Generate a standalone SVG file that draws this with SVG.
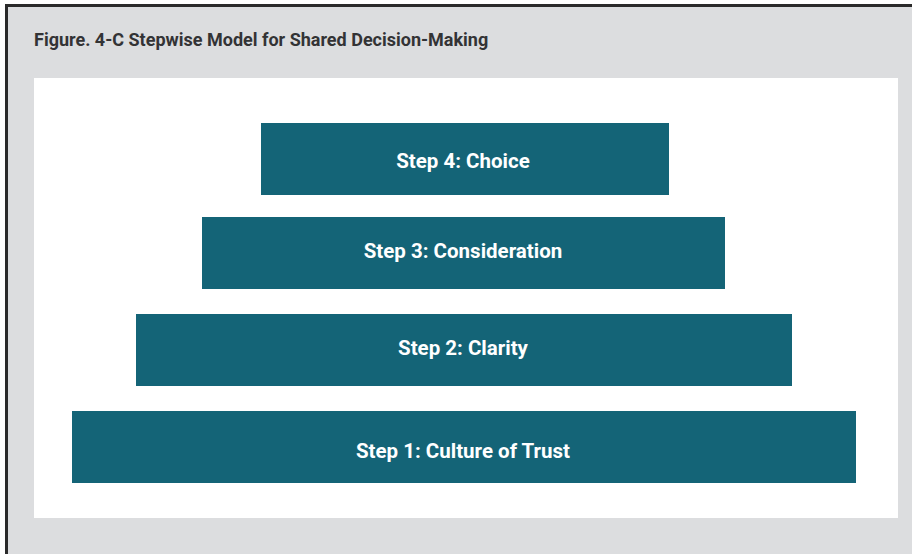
<svg xmlns="http://www.w3.org/2000/svg" width="912" height="554" viewBox="0 0 912 554">
  <style>
    .step rect { fill: #146477; }
    .step text { fill: #ffffff; font-family: Roboto, "Liberation Sans", sans-serif; font-weight: bold; font-size: 20.5px; text-anchor: middle; }
    .title { fill: #333335; font-family: Roboto, "Liberation Sans", sans-serif; font-weight: bold; font-size: 18px; }
  </style>
  <rect x="0" y="0" width="912" height="554" fill="#ffffff"/>
  <!-- grey frame with dark top and left rule -->
  <rect x="5" y="4" width="907" height="550" fill="#dcdddf"/>
  <rect x="5" y="4" width="907" height="3" fill="#2a2a2a"/>
  <rect x="5" y="4" width="3" height="550" fill="#2a2a2a"/>
  <text class="title" x="34" y="46">Figure. 4-C Stepwise Model for Shared Decision-Making</text>
  <!-- white panel -->
  <rect x="34" y="78" width="864" height="440" fill="#ffffff"/>
  <g id="connectors"></g>
  <g id="step4" class="step">
    <rect x="261" y="123" width="408" height="72"/>
    <text x="463" y="168">Step 4: Choice</text>
  </g>
  <g id="step3" class="step">
    <rect x="202" y="217" width="523" height="72"/>
    <text x="463" y="258">Step 3: Consideration</text>
  </g>
  <g id="step2" class="step">
    <rect x="136" y="314" width="656" height="72"/>
    <text x="463" y="355">Step 2: Clarity</text>
  </g>
  <g id="step1" class="step">
    <rect x="72" y="411" width="784" height="72"/>
    <text x="463" y="458">Step 1: Culture of Trust</text>
  </g>
</svg>
